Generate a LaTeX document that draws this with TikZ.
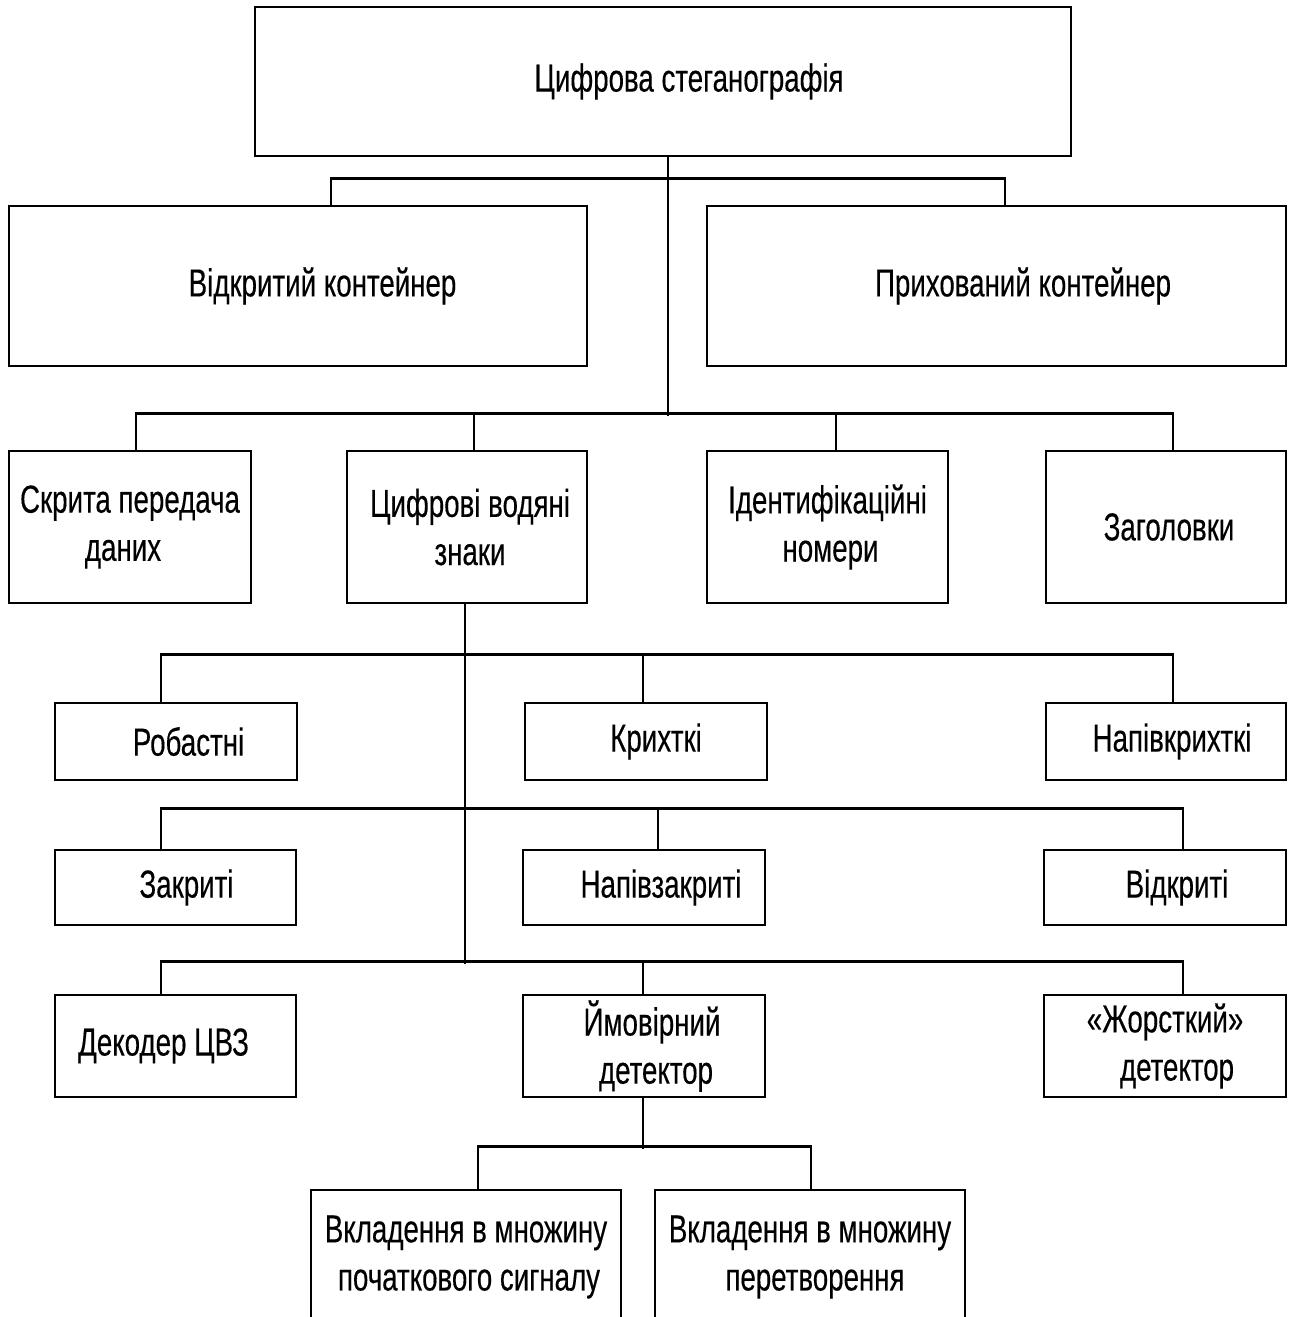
\documentclass[tikz,border=0pt]{standalone}
\usepackage{fontspec}
\setmainfont{Liberation Sans}[FakeStretch=0.71,FakeBold=0.3]
\newcommand{\sh}[1]{\hspace*{#1}}

\begin{document}
\begin{tikzpicture}[
    blk/.style={draw, line width=0.8pt, align=center, inner sep=0pt,
        font=\fontsize{11.1}{13.7}\selectfont},
    link/.style={line width=0.8pt}
]
    \useasboundingbox (0,0) rectangle (12.93,-13.17);
    \clip (0,0) rectangle (12.93,-13.17);

    % top level
    \node[blk, minimum width=8.16cm, minimum height=1.49cm] (steg) at (6.63,-0.815) {\sh{0.52cm}Цифрова стеганографія};

    \node[blk, minimum width=5.78cm, minimum height=1.60cm] (opencont) at (2.98,-2.86) {\sh{0.49cm}Відкритий контейнер};
    \node[blk, minimum width=5.79cm, minimum height=1.60cm] (hidcont) at (9.965,-2.86) {\sh{0.53cm}Прихований контейнер};

    % applications
    \node[blk, minimum width=2.42cm, minimum height=1.52cm] (covert) at (1.30,-5.27) {Скрита передача\\даних\sh{0.14cm}};
    \node[blk, minimum width=2.40cm, minimum height=1.52cm] (cvz) at (4.67,-5.27) {\sh{0.06cm}Цифрові водяні\\\sh{0.06cm}знаки};
    \node[blk, minimum width=2.41cm, minimum height=1.52cm] (ident) at (8.275,-5.27) {Ідентифікаційні\\\sh{0.06cm}номери};
    \node[blk, minimum width=2.40cm, minimum height=1.52cm] (heads) at (11.66,-5.27) {\sh{0.06cm}Заголовки};

    % watermark kinds
    \node[blk, minimum width=2.42cm, minimum height=0.77cm] (robust) at (1.76,-7.415) {\sh{0.25cm}Робастні};
    \node[blk, minimum width=2.42cm, minimum height=0.77cm] (fragile) at (6.46,-7.415) {\sh{0.2cm}Крихткі};
    \node[blk, minimum width=2.40cm, minimum height=0.77cm] (semifrag) at (11.66,-7.415) {\sh{0.12cm}Напівкрихткі};

    \node[blk, minimum width=2.41cm, minimum height=0.75cm] (closed) at (1.755,-8.875) {\sh{0.22cm}Закриті};
    \node[blk, minimum width=2.42cm, minimum height=0.75cm] (semiclosed) at (6.44,-8.875) {\sh{0.34cm}Напівзакриті};
    \node[blk, minimum width=2.42cm, minimum height=0.75cm] (opened) at (11.65,-8.875) {\sh{0.24cm}Відкриті};

    \node[blk, minimum width=2.41cm, minimum height=1.02cm] (decoder) at (1.755,-10.46) {Декодер ЦВЗ\sh{0.24cm}};
    \node[blk, minimum width=2.42cm, minimum height=1.02cm] (probdet) at (6.44,-10.46) {\sh{0.16cm}Ймовірний\\\sh{0.24cm}детектор};
    \node[blk, minimum width=2.42cm, minimum height=1.02cm] (harddet) at (11.65,-10.46) {«Жорсткий»\\\sh{0.24cm}детектор};

    \node[blk, minimum width=3.10cm, minimum height=1.34cm] (embsig) at (4.66,-12.57) {Вкладення в множину\\\sh{0.06cm}початкового сигналу};
    \node[blk, minimum width=3.10cm, minimum height=1.34cm] (embtr) at (8.10,-12.57) {Вкладення в множину\\\sh{0.1cm}перетворення};

    % connectors
    \draw[link] ([xshift=0.05cm]steg.south) -- ++(0,-2.59);
    \draw[link] ([xshift=0.33cm]opencont.north) -- ++(0,0.26) -| ([xshift=0.085cm]hidcont.north);

    \draw[link] ([xshift=0.06cm]covert.north) -- ++(0,0.36) -| ([xshift=0.07cm]heads.north);
    \draw[link] ([xshift=0.07cm]cvz.north) -- ++(0,0.36);
    \draw[link] ([xshift=0.085cm]ident.north) -- ++(0,0.36);

    \draw[link] ([xshift=-0.02cm]cvz.south) -- ++(0,-3.60);

    \draw[link] ([xshift=-0.15cm]robust.north) -- ++(0,0.47) -| ([xshift=0.07cm]semifrag.north);
    \draw[link] ([xshift=-0.03cm]fragile.north) -- ++(0,0.47);

    \draw[link] ([xshift=-0.145cm]closed.north) -- ++(0,0.40) -| ([xshift=0.18cm]opened.north);
    \draw[link] ([xshift=0.14cm]semiclosed.north) -- ++(0,0.40);

    \draw[link] ([xshift=-0.145cm]decoder.north) -- ++(0,0.32) -| ([xshift=0.18cm]harddet.north);
    \draw[link] ([xshift=-0.01cm]probdet.north) -- ++(0,0.32);

    \draw[link] ([xshift=-0.01cm]probdet.south) -- ++(0,-0.51);
    \draw[link] ([xshift=0.12cm]embsig.north) -- ++(0,0.42) -| ([xshift=0.01cm]embtr.north);
\end{tikzpicture}
\end{document}
